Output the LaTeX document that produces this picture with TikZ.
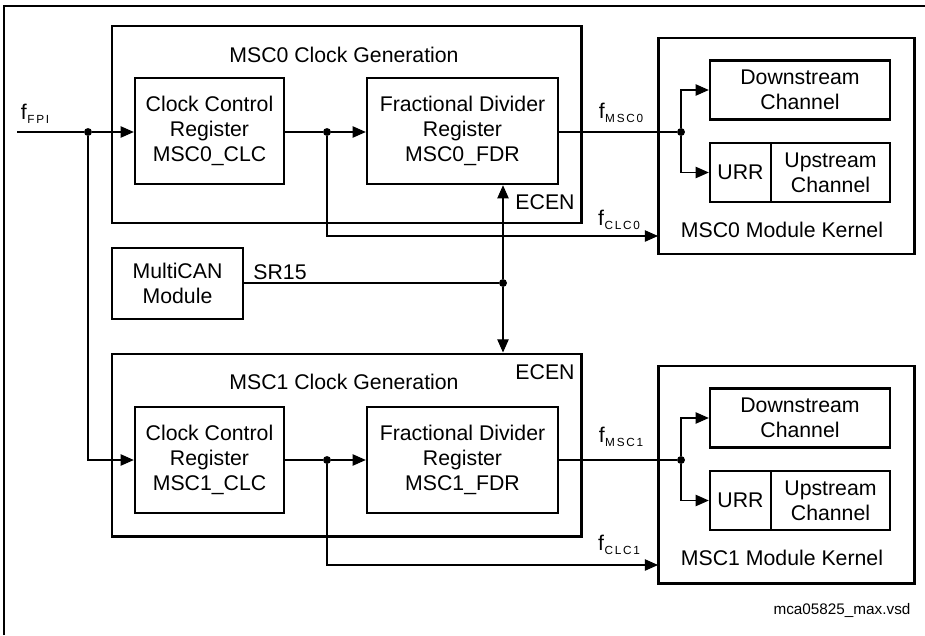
\documentclass[tikz,border=0pt]{standalone}
\usepackage{fontspec}
\setmainfont{Liberation Sans}
\usetikzlibrary{arrows.meta,fit}
\tikzset{
  genbox/.style={draw, line width=1.7pt, inner sep=0pt},
  regbox/.style={draw, line width=1.4pt, inner sep=0pt, align=center},
  ctlbox/.style={regbox, minimum width=2.98cm, minimum height=2.12cm},
  divbox/.style={regbox, minimum width=3.82cm, minimum height=2.12cm},
  chanbox/.style={regbox, minimum width=3.6cm, minimum height=1.18cm},
  urrbox/.style={regbox, minimum width=1.22cm, minimum height=1.18cm},
  upbox/.style={regbox, minimum width=2.38cm, minimum height=1.18cm},
  wire/.style={line width=0.6pt},
  sig/.style={wire, -{Triangle[length=7.5pt,width=6.5pt]}},
  jdot/.style={circle, fill, inner sep=0pt, minimum size=4.5pt},
  lbl/.style={inner sep=0pt}
}
\newcommand{\fsig}[1]{f\kern0.3pt\raisebox{-0.4ex}{\fontsize{6.7}{7}\selectfont\addfontfeature{LetterSpace=15}#1}}

\begin{document}
\begin{tikzpicture}[x=0.02cm, y=-0.02cm, font=\fontsize{12.1}{14.2}\selectfont]
\useasboundingbox (0,0) rectangle (925,635);
\draw[wire] (4,635) -- (4,6) -- (925,6);

% MSC0 clock generation
\node[genbox, fit={(112,26) (581,223)}] (gen0) {};
\node[lbl] (gen0t) at (344,55) {MSC0 Clock Generation};
\node[ctlbox] (clc0) at (209.5,131) {Clock Control\\Register\\MSC0\_CLC};
\node[divbox] (fdr0) at (462.5,131) {Fractional Divider\\Register\\MSC0\_FDR};
\node[lbl] (ecen0) at (545,202) {ECEN};

% MSC0 kernel
\node[genbox, fit={(658,38) (914,254)}] (ker0) {};
\node[chanbox] (ds0) at (800,90) {Downstream\\Channel};
\node[urrbox] (urr0) at (740.5,172.5) {URR};
\node[upbox] (us0) at (830.5,172.5) {Upstream\\Channel};
\node[lbl] (ker0t) at (782,230) {MSC0 Module Kernel};

% input and MSC0 signals
\node[lbl] (fin) at (35,114) {\fsig{FPI}};
\coordinate (in) at (17,132);
\node[jdot] (j0) at (88,132) {};
\draw[wire] (in) -- (j0);
\draw[sig] (j0) -- (j0 -| clc0.west);
\node[jdot] (j1) at (327,132) {};
\draw[wire] (clc0.east |- j1) -- (j1);
\draw[sig] (j1) -- (j1 -| fdr0.west);
\node[jdot] (j2) at (681,132) {};
\draw[wire] (fdr0.east |- j2) -- (j2);
\draw[sig] (j2) |- (ds0.west);
\draw[sig] (j2) |- (urr0.west);
\node[lbl] (fmsc0) at (621,113) {\fsig{MSC0}};
\coordinate (c0) at (658,236);
\draw[sig] (j1) |- (c0);
\node[lbl] (fclc0) at (619,220) {\fsig{CLC0}};

% MultiCAN
\node[regbox, minimum width=2.62cm, minimum height=1.42cm] (can) at (177.5,283.5) {MultiCAN\\Module};
\node[lbl] (sr15) at (280,272) {SR15};
\node[jdot] (j3) at (503,283) {};
\draw[wire] (can.east |- j3) -- (j3);
\draw[sig] (j3) -- (j3 |- fdr0.south);

% MSC1 clock generation
\node[genbox, fit={(112,354) (581,536)}] (gen1) {};
\node[lbl] (gen1t) at (344,382) {MSC1 Clock Generation};
\node[ctlbox] (clc1) at (209.5,460) {Clock Control\\Register\\MSC1\_CLC};
\node[divbox] (fdr1) at (462.5,460) {Fractional Divider\\Register\\MSC1\_FDR};
\node[lbl] (ecen1) at (545,372) {ECEN};
\draw[sig] (j3) -- (j3 |- gen1.north);

% MSC1 kernel
\node[genbox, fit={(658,366) (914,583)}] (ker1) {};
\node[chanbox] (ds1) at (800,418) {Downstream\\Channel};
\node[urrbox] (urr1) at (740.5,500.5) {URR};
\node[upbox] (us1) at (830.5,500.5) {Upstream\\Channel};
\node[lbl] (ker1t) at (782,558) {MSC1 Module Kernel};

% MSC1 signals
\draw[sig] (j0) |- (clc1.west);
\node[jdot] (j4) at (327,460) {};
\draw[wire] (clc1.east |- j4) -- (j4);
\draw[sig] (j4) -- (j4 -| fdr1.west);
\node[jdot] (j5) at (681,460) {};
\draw[wire] (fdr1.east |- j5) -- (j5);
\draw[sig] (j5) |- (ds1.west);
\draw[sig] (j5) |- (urr1.west);
\node[lbl] (fmsc1) at (621,437) {\fsig{MSC1}};
\coordinate (c1) at (658,565);
\draw[sig] (j4) |- (c1);
\node[lbl] (fclc1) at (619,545) {\fsig{CLC1}};

\node[lbl, font=\fontsize{8.7}{10}\selectfont] (file) at (842,610) {mca05825\_max.vsd};
\end{tikzpicture}
\end{document}
